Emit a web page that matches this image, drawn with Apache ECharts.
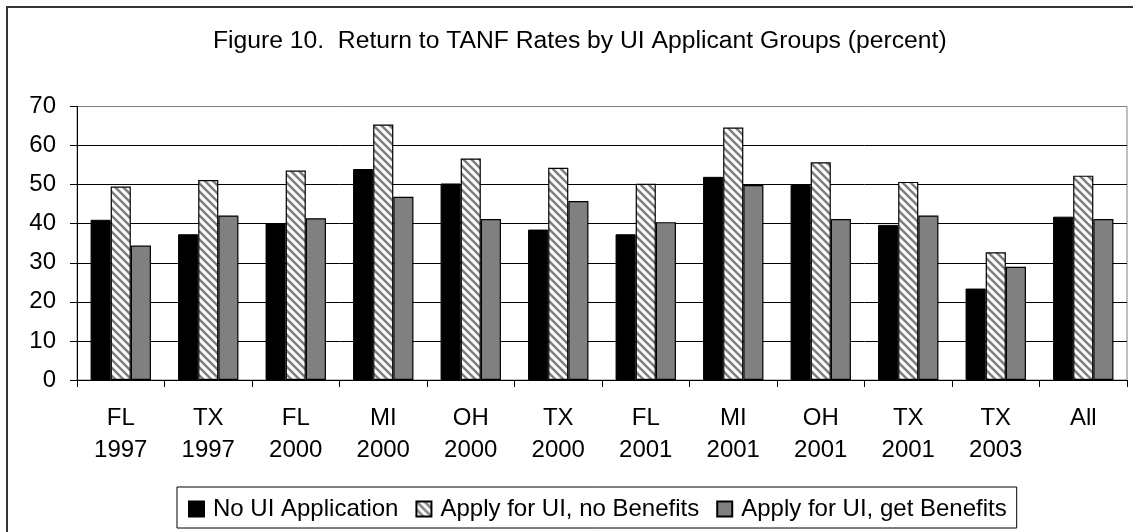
<!DOCTYPE html>
<html>
<head>
<meta charset="utf-8">
<script src="https://cdn.jsdelivr.net/npm/echarts@6/dist/echarts.min.js"></script>
<style>
  html, body { margin: 0; padding: 0; background: #fff; }
  #chart { width: 1133px; height: 532px; }
</style>
</head>
<body>
<div id="chart"></div>
<script>
let categories = ['FL\n1997', 'TX\n1997', 'FL\n2000', 'MI\n2000', 'OH\n2000', 'TX\n2000',
    'FL\n2001', 'MI\n2001', 'OH\n2001', 'TX\n2001', 'TX\n2003', 'All']
let noUiApp = [41.0, 37.3, 40.1, 54.0, 50.3, 38.5, 37.3, 52.0, 49.9, 39.7, 23.4, 41.8]
let applyNoBen = [49.5, 51.2, 53.6, 65.4, 56.7, 54.3, 50.2, 64.6, 55.7, 50.7, 32.7, 52.3]
let applyGetBen = [34.4, 42.1, 41.4, 46.9, 41.2, 45.8, 40.4, 49.9, 41.2, 42.1, 29.0, 41.2]
let seriesNames = ['No UI Application', 'Apply for UI, no Benefits', 'Apply for UI, get Benefits']
let yTicks = [0, 10, 20, 30, 40, 50, 60, 70]

// diagonal stripes for the middle series
function makeStripes() {
    let c = document.createElement('canvas')
    c.width = 8
    c.height = 8
    let ctx = c.getContext('2d')
    ctx.fillStyle = '#fff'
    ctx.fillRect(0, 0, 8, 8)
    ctx.strokeStyle = '#808080'
    ctx.lineWidth = 2.6
    ctx.beginPath()
    for (let k = -8; k <= 16; k += 8) {
        ctx.moveTo(k - 2, -2)
        ctx.lineTo(k + 10, 10)
    }
    ctx.stroke()
    return c
}
let stripes = makeStripes()

let font = '"Liberation Sans", Arial, sans-serif'
let chart = echarts.init(document.getElementById('chart'))

chart.setOption({
    animation: false,
    backgroundColor: '#fff',
    textStyle: {fontFamily: font, color: '#000'},
    title: {
        text: 'Figure 10.  Return to TANF Rates by UI Applicant Groups (percent)',
        left: 208,
        top: 24,
        textStyle: {fontFamily: font, fontSize: 24.7, fontWeight: 'normal', color: '#000'}
    },
    graphic: [{
        type: 'rect',
        shape: {x: 7, y: 7, width: 1140, height: 540},
        style: {fill: 'none', stroke: '#333', lineWidth: 2},
        silent: true
    }],
    grid: {
        left: 77, top: 106.5, right: 6, bottom: 152,
        show: true, borderColor: '#808080', borderWidth: 1
    },
    legend: {
        data: seriesNames,
        left: 177,
        top: 487,
        padding: [10, 10, 7, 11],
        itemGap: 17,
        itemWidth: 15,
        itemHeight: 15,
        borderColor: '#000',
        borderWidth: 1,
        icon: 'rect',
        textStyle: {fontFamily: font, fontSize: 24, color: '#000', padding: [0, 0, 0, 4]}
    },
    xAxis: {
        type: 'category',
        data: categories,
        axisLine: {lineStyle: {color: '#000', width: 1}},
        axisTick: {show: true, length: 7, lineStyle: {color: '#000'}},
        axisLabel: {fontFamily: font, fontSize: 24, lineHeight: 32, color: '#000', margin: 22}
    },
    yAxis: {
        type: 'value',
        min: yTicks[0],
        max: yTicks[yTicks.length - 1],
        interval: 10,
        axisLine: {show: true, lineStyle: {color: '#000', width: 1}},
        axisTick: {show: true, length: 7, lineStyle: {color: '#000'}},
        axisLabel: {fontFamily: font, fontSize: 24, color: '#000', margin: 21},
        splitLine: {lineStyle: {color: ['#000', '#000', '#000', '#000', '#000', '#000', '#000', '#808080'], width: 1}}
    },
    series: [
        {
            name: seriesNames[0], type: 'bar', data: noUiApp,
            barGap: '0%', barCategoryGap: '31%',
            itemStyle: {color: '#000', borderColor: '#000', borderWidth: 1}
        },
        {
            name: seriesNames[1], type: 'bar', data: applyNoBen,
            barGap: '0%', barCategoryGap: '31%',
            itemStyle: {color: {image: stripes, repeat: 'repeat'}, borderColor: '#000', borderWidth: 1.2}
        },
        {
            name: seriesNames[2], type: 'bar', data: applyGetBen,
            barGap: '0%', barCategoryGap: '31%',
            itemStyle: {color: '#808080', borderColor: '#000', borderWidth: 1.2}
        }
    ]
})
</script>
</body>
</html>
